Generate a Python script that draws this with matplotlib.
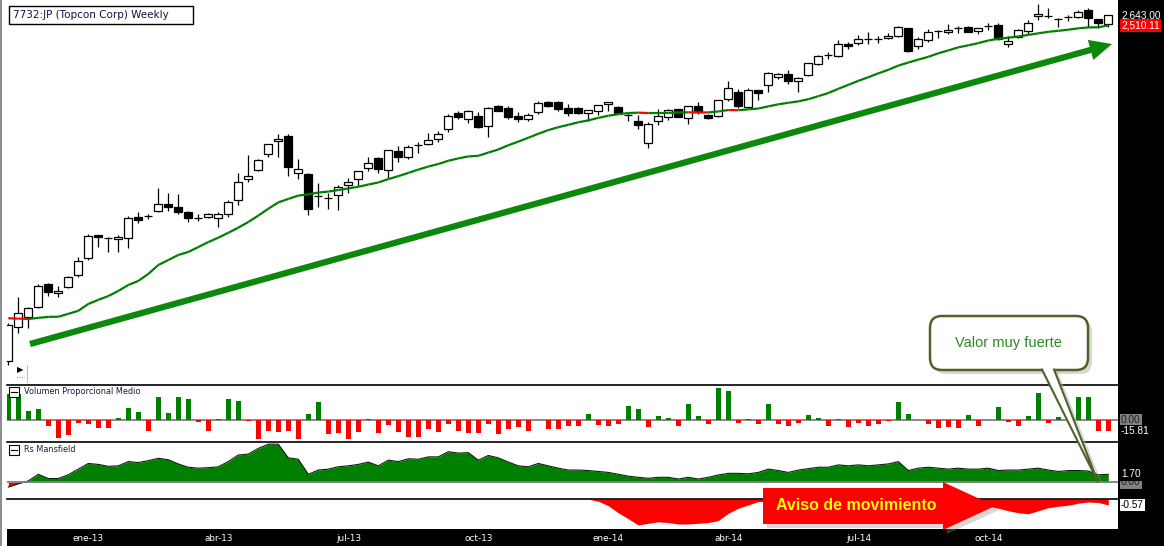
import numpy as np
import pandas as pd
import matplotlib
matplotlib.use('Agg')
import matplotlib.pyplot as plt
from matplotlib.collections import LineCollection
from matplotlib.patches import Rectangle, FancyBboxPatch, FancyArrowPatch, Polygon
from matplotlib.transforms import blended_transform_factory
from matplotlib.lines import Line2D

# -- Datos semanales 7732:JP -- #

apertura = [469, 555, 584, 614, 689, 658, 678, 720, 784, 880,
            866, 862, 867, 963, 967, 992, 1027, 1012, 987, 958,
            963, 958, 977, 1048, 1164, 1218, 1319, 1408, 1443, 1200,
            1194, 1069, 1059, 1075, 1130, 1164, 1230, 1293, 1218, 1339,
            1299, 1380, 1387, 1422, 1495, 1619, 1571, 1595, 1517, 1677,
            1660, 1595, 1571, 1627, 1711, 1711, 1660, 1660, 1619, 1635,
            1694, 1669, 1603, 1556, 1394, 1556, 1587, 1652, 1579, 1677,
            1603, 1595, 1737, 1798, 1669, 1816, 1862, 1938, 1968, 1900,
            1958, 2069, 2164, 2153, 2286, 2298, 2344, 2344, 2356, 2380,
            2477, 2264, 2332, 2440, 2428, 2477, 2489, 2440, 2501, 2514,
            2286, 2368, 2440, 2630, 2630, 2591, 2617, 2617, 2710, 2591, 2527]
maximo = [567, 645, 614, 689, 692, 682, 717, 788, 884, 880,
          871, 880, 967, 987, 977, 1113, 1085, 1080, 992, 977,
          982, 987, 1048, 1200, 1312, 1287, 1387, 1458, 1458, 1287,
          1200, 1141, 1085, 1130, 1170, 1212, 1299, 1299, 1346, 1373,
          1380, 1401, 1465, 1480, 1611, 1635, 1644, 1627, 1669, 1685,
          1677, 1627, 1619, 1719, 1719, 1719, 1694, 1669, 1644, 1685,
          1711, 1677, 1619, 1603, 1548, 1652, 1652, 1653, 1677, 1711,
          1611, 1728, 1900, 1826, 1835, 1817, 1988, 1978, 2008, 1938,
          2079, 2164, 2197, 2332, 2309, 2392, 2428, 2380, 2415, 2501,
          2478, 2368, 2464, 2452, 2527, 2501, 2501, 2478, 2539, 2539,
          2380, 2464, 2578, 2792, 2737, 2604, 2643, 2710, 2737, 2592, 2643]
minimo = [459, 539, 553, 611, 649, 645, 675, 713, 776, 829,
          808, 808, 824, 934, 953, 987, 992, 977, 939, 944,
          958, 916, 963, 1022, 1147, 1212, 1299, 1299, 1182, 1164,
          972, 1012, 1002, 997, 1085, 1124, 1212, 1200, 1170, 1267,
          1287, 1326, 1380, 1401, 1472, 1571, 1540, 1502, 1436, 1635,
          1571, 1548, 1556, 1611, 1669, 1635, 1595, 1611, 1556, 1603,
          1635, 1611, 1556, 1495, 1359, 1525, 1563, 1587, 1533, 1611,
          1571, 1587, 1719, 1660, 1660, 1728, 1798, 1919, 1872, 1798,
          1948, 2058, 2121, 2142, 2230, 2275, 2286, 2298, 2344, 2368,
          2197, 2230, 2309, 2356, 2403, 2415, 2426, 2403, 2452, 2332,
          2252, 2356, 2403, 2578, 2604, 2489, 2565, 2604, 2489, 2477, 2489]
cierre = [561, 596, 611, 682, 662, 665, 713, 772, 875, 871,
          867, 871, 958, 948, 968, 1027, 1012, 987, 958, 957,
          977, 977, 1038, 1147, 1182, 1280, 1387, 1422, 1236, 1224,
          1002, 1070, 1058, 1118, 1147, 1212, 1261, 1224, 1346, 1299,
          1366, 1379, 1415, 1458, 1595, 1587, 1635, 1510, 1660, 1634,
          1587, 1571, 1603, 1702, 1677, 1652, 1619, 1619, 1644, 1685,
          1711, 1619, 1602, 1525, 1533, 1595, 1644, 1587, 1677, 1627,
          1579, 1728, 1835, 1677, 1816, 1789, 1978, 1968, 1900, 1929,
          2079, 2153, 2163, 2286, 2264, 2344, 2343, 2345, 2380, 2489,
          2208, 2344, 2428, 2439, 2452, 2476, 2428, 2477, 2500, 2344,
          2321, 2452, 2539, 2656, 2631, 2590, 2616, 2683, 2604, 2539, 2643]

# media de 20 semanas: las primeras 19 vienen de datos anteriores al grafico
sma_inicio = [580, 579, 578, 581, 584, 584.5, 593, 602, 623, 636,
              648, 665, 685, 699, 724, 757, 776, 796, 808]
texto_sma = "2,510.11"

volumen_prop = [36.4, 36.4, 12.6, 15.4, -7.9, -24.7, -21, -3.7, -5.1, -10.7,
                -10.7, 2.8, 16.8, 11.2, -14.9, 32.2, 9.8, 32.2, 29.4, -2.3,
                -14.9, 1.4, 29.4, 26.6, -1.9, -26.1, -14.9, -16.3, -14.9, -26.1,
                8.4, 25.2, -19.1, -17.7, -26.1, -16.3, 1.4, -17.7, -6.5, -16.3,
                -23.3, -23.3, -12.1, -16.3, -5.1, -14.9, -17.7, -17.7, -5.1, -19.1,
                -12.1, -9.3, -14.9, 0, -12.1, -12.1, -7.9, -7.9, 8.4, -6.5,
                -9, -5, 20, 15, -10, 5, 3, -8, 22, 6,
                -6, 45, 41, -4, 2, -6, 23, -6, -8, -4,
                7, 3, -8, 1, -10, -4, -8, -6, -0.8, 25.7,
                8.4, 0, -5.6, -11.7, -9.3, -10.7, 7, -8.4, 0, 18.5,
                -2.3, -8, 5.8, 38, -3.5, 4.6, 0.5, 32.2, 32.2, -15.5, -15.81]

rs_mansfield = [-1.0, -0.3, 0.3, 1.7, 0.8, 0.8, 1.6, 2.8, 4.0, 3.8,
                3.4, 3.5, 4.4, 4.2, 4.6, 5.1, 4.8, 3.9, 3.2, 3.0,
                3.1, 3.3, 4.4, 5.8, 6.0, 7.2, 8.1, 8.1, 5.2, 4.9,
                1.7, 2.6, 2.8, 3.3, 3.5, 3.8, 4.3, 3.5, 4.7, 4.4,
                5.0, 4.9, 5.4, 5.4, 6.5, 6.2, 6.3, 4.7, 5.7, 5.2,
                4.3, 3.5, 3.3, 4.0, 3.5, 3.0, 2.6, 2.6, 2.5, 2.3,
                2.1, 1.7, 1.3, 1.06, 0.85, 1.06, 1.06, 0.7, 1.06, 0.7,
                1.06, 1.56, 1.9, 1.9, 1.8, 2.1, 2.8, 2.5, 2.1, 2.6,
                2.9, 3.2, 3.2, 3.7, 3.5, 3.7, 3.5, 3.7, 3.9, 4.4,
                2.5, 3.0, 3.2, 3.0, 2.8, 3.0, 2.8, 2.8, 3.0, 2.5,
                2.6, 2.6, 2.8, 3.0, 2.6, 2.3, 2.5, 2.5, 2.4, 1.6, 1.70]

aviso = [0] * 59 + [-0.2, -0.65, -1.35, -1.95, -2.57, -2.4, -2.25, -2.33, -2.47, -2.47,
                    -2.4, -2.33, -2.13, -1.4, -0.9, -0.57, -0.23] + [-0.2] * 20 + \
        [-0.3, -0.45, -0.7, -0.9, -1.15, -1.35, -1.45, -1.15, -0.85, -0.7,
         -0.6, -0.4, -0.28, -0.33, -0.57]

pos_fechas = [8, 21, 34, 47, 60, 72, 85, 98]
etiquetas_fechas = ['ene-13', 'abr-13', 'jul-13', 'oct-13', 'ene-14', 'abr-14', 'jul-14', 'oct-14']

# -- Colores -- #
verde = '#008000'
rojo = '#FF0000'

plt.rcParams['font.family'] = 'DejaVu Sans'

W, H = 1164, 546
fig = plt.figure(figsize=(W / 100, H / 100), dpi=100)
fig.patch.set_facecolor('white')

def caja(y0, y1):
    return [7 / W, 1 - y1 / H, (1118 - 7) / W, (y1 - y0) / H]

o = np.array(apertura, float)
h = np.array(maximo, float)
l = np.array(minimo, float)
c = np.array(cierre, float)
n = len(c)
x = np.arange(n)
xlim = (-0.13, 110.97)

# -- Panel de precios -- #
ax = fig.add_axes(caja(0, 385))
ax.set_yscale('log')
ax.vlines(x, l, h, color='black', lw=0.9, zorder=2)
cuerpo = np.abs(c - o)
cuerpo[cuerpo < 1] = 1
ax.bar(x, cuerpo, bottom=np.minimum(o, c), width=0.8,
       color=np.where(c >= o, 'white', 'black'), edgecolor='black', linewidth=0.9, zorder=3)

sma = pd.Series(c).rolling(20).mean().values
sma[:19] = sma_inicio
pts = np.column_stack([x, sma])
segs = np.stack([pts[:-1], pts[1:]], axis=1)
col_sma = np.where(np.diff(sma) >= 0, verde, rojo)
ax.add_collection(LineCollection(segs, colors=col_sma, linewidths=1.6, zorder=4))
ax.set_xlim(*xlim)
ax.set_ylim(415.4, 2849)
ax.axis('off')

# -- Volumen Proporcional Medio -- #
ax_v = fig.add_axes(caja(385, 442))
vol = np.array(volumen_prop)
ax_v.bar(x, vol, width=0.45, color=np.where(vol >= 0, verde, rojo), zorder=2)
ax_v.axhline(0, color='#808080', lw=1.3, zorder=1)
ax_v.set_xlim(*xlim)
ax_v.set_ylim(-30.8, 49)

# -- Rs Mansfield -- #
ax_rs = fig.add_axes(caja(442, 499))
rs = np.array(rs_mansfield)
ax_rs.fill_between(x, rs, 0, where=rs >= 0, interpolate=True, color=verde, lw=0, zorder=2)
ax_rs.fill_between(x, rs, 0, where=rs < 0, interpolate=True, color=rojo, lw=0, zorder=2)
ax_rs.plot(x, rs, color='#102010', lw=0.8, zorder=3)
ax_rs.axhline(0, color='#808080', lw=1.3, zorder=4)
ax_rs.set_xlim(*xlim)
ax_rs.set_ylim(-3.55, 8.56)

# -- Tercer indicador -- #
ax_av = fig.add_axes(caja(499, 529))
av = np.array(aviso)
ax_av.fill_between(x, av, 0, color=rojo, lw=0)
ax_av.set_xlim(*xlim)
ax_av.set_ylim(-2.97, 0.02)

for a in (ax_v, ax_rs, ax_av):
    a.set_xticks([])
    a.set_yticks([])
    for s in ('left', 'right', 'bottom'):
        a.spines[s].set_visible(False)
    a.spines['top'].set_color('black')
    a.spines['top'].set_linewidth(1.2)

# -- Fechas -- #
ax_f = fig.add_axes(caja(529, 546))
ax_f.set_facecolor('black')
ax_f.set_xlim(*xlim)
ax_f.set_ylim(0, 1)
ax_f.set_xticks([])
ax_f.set_yticks([])
for s in ax_f.spines.values():
    s.set_visible(False)
for p, t in zip(pos_fechas, etiquetas_fechas):
    ax_f.text(p, 0.42, t, color='white', fontsize=6.4, ha='center', va='center')

# -- Columna derecha con los ultimos valores -- #
fig.add_artist(Rectangle((1118 / W, 0), 46 / W, 1, transform=fig.transFigure,
                         facecolor='black', edgecolor='none', zorder=-1))
fig.add_artist(Line2D([0.6 / W, 0.6 / W], [0, 1], transform=fig.transFigure,
                      color='#8a8a99', lw=1.4))

def etiqueta(a, valor, texto, fondo, color):
    tr = blended_transform_factory(a.transAxes, a.transData)
    a.text(1 + 3 / 1111, valor, texto, transform=tr, fontsize=7.3, family='Liberation Sans',
           color=color, ha='left', va='center', clip_on=False, zorder=20,
           bbox=dict(boxstyle='square,pad=0.12', fc=fondo, ec='none'))

etiqueta(ax, c[-1], f"{c[-1]:,.2f}", 'black', 'white')
etiqueta(ax, sma[-1], texto_sma, rojo, 'white')
etiqueta(ax_v, 0, "0.00", '#808080', '#202020')
etiqueta(ax_v, vol[-1], f"{vol[-1]:.2f}", 'black', 'white')
etiqueta(ax_rs, 0, "0.00", '#808080', '#202020')
etiqueta(ax_rs, rs[-1], f"{rs[-1]:.2f}", 'black', 'white')
etiqueta(ax_av, av[-1], f"{av[-1]:.2f}", 'white', 'black')

# -- Anotaciones encima (en pixeles de la imagen) -- #
ov = fig.add_axes([0, 0, 1, 1], zorder=10)
ov.set_xlim(0, W)
ov.set_ylim(H, 0)
ov.axis('off')
ov.patch.set_alpha(0)

# titulo
ov.add_patch(Rectangle((9, 6), 184, 18, fc='white', ec='black', lw=1))
ov.text(13, 15.5, "7732:JP (Topcon Corp) Weekly", fontsize=7.5, color='#141040', va='center')

# cabeceras de los paneles
for yc, txt in ((392, "Volumen Proporcional Medio"), (449.5, "Rs Mansfield")):
    ov.add_patch(Rectangle((9, yc - 5), 10, 10, fc='white', ec='black', lw=0.8))
    ov.plot([11, 17], [yc, yc], color='black', lw=0.8)
    ov.text(24, yc, txt, fontsize=5.9, color='#1a1a40', va='center')

# icono de reproduccion
ov.text(20, 370, '\u25B6', fontsize=6, ha='center', va='center', color='black')
ov.plot([17, 24], [377, 377], color='#555555', lw=0.6, ls=':')
ov.plot([27, 27], [365, 382], color='#c0c0c0', lw=0.8)

# flecha verde de tendencia
ov.add_patch(FancyArrowPatch((30, 344), (1112, 44),
                             arrowstyle='simple,head_length=1.6,head_width=1.5,tail_width=0.45',
                             mutation_scale=10, color='#0c880c', lw=0, shrinkA=0, shrinkB=0))

# bocadillo "Valor muy fuerte"
ov.add_patch(FancyBboxPatch((934, 320), 158, 54, boxstyle='round,pad=0,rounding_size=12',
                            fc='#b0b0b0', ec='none', alpha=0.5))
ov.add_patch(Polygon([(1046, 372), (1103, 486), (1058, 372)], closed=True,
                     fc='#b0b0b0', ec='none', alpha=0.5))
ov.add_patch(FancyBboxPatch((930, 316), 158, 54, boxstyle='round,pad=0,rounding_size=12',
                            fc='white', ec='#4F6228', lw=1.8))
ov.add_patch(Polygon([(1042, 368), (1098, 482), (1054, 368)], closed=True, fc='white', ec='none'))
ov.plot([1042, 1098, 1054], [369.5, 482, 369.5], color='#4F6228', lw=1.5, solid_joinstyle='miter')
ov.text(1008, 343, "Valor muy fuerte", fontsize=10.5, family='Liberation Sans',
        color='#2a8a22', ha='center', va='center')

# flecha roja "Aviso de movimiento"
flecha = [(763, 488), (943, 488), (943, 482), (995, 506), (943, 530), (943, 524), (763, 524)]
ov.add_patch(Polygon([(px + 4, py + 4) for px, py in flecha], closed=True,
                     fc='#909090', ec='none', alpha=0.35))
ov.add_patch(Polygon(flecha, closed=True, fc=rojo, ec='none'))
ov.text(856, 505, "Aviso de movimiento", fontsize=11.5, family='Liberation Sans',
        fontweight='bold', color='#FFFF00', ha='center', va='center')

fig.savefig('out.png', dpi=100)
